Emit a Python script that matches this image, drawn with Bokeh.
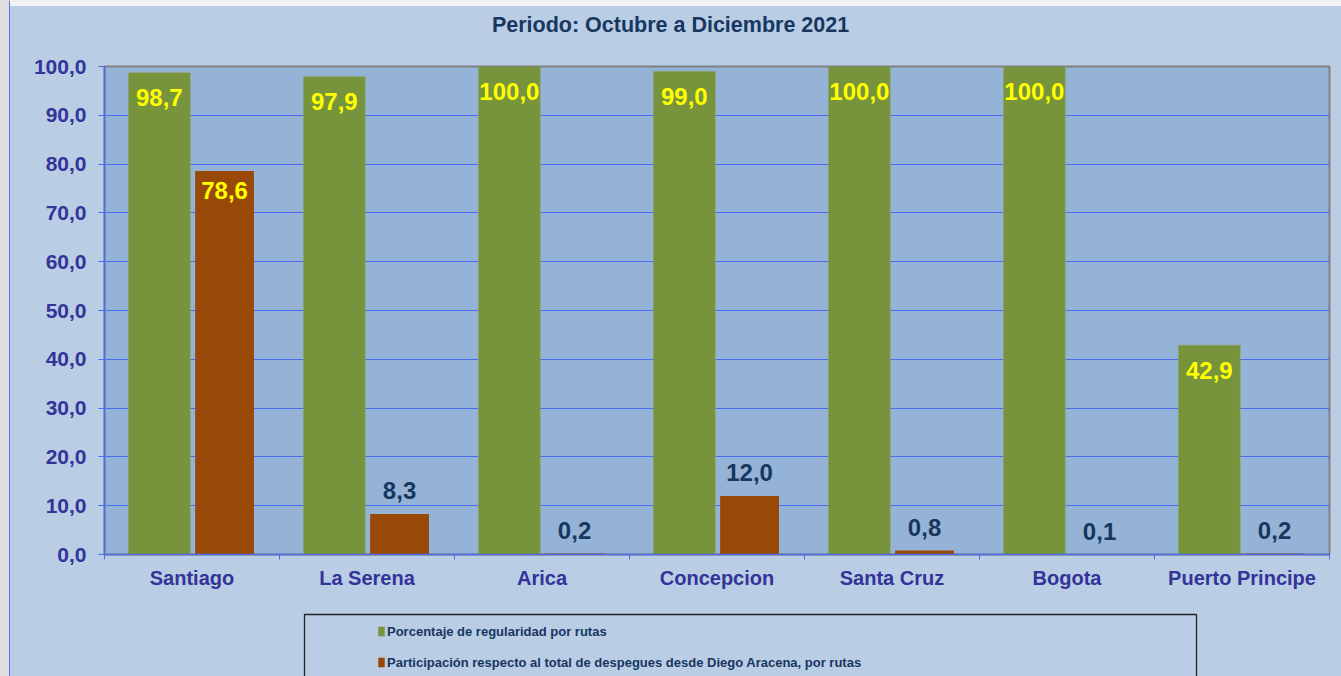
import numpy as np
from bokeh.plotting import figure
from bokeh.layouts import column, row
from bokeh.models import (Range1d, FixedTicker, ColumnDataSource, Legend, LegendItem)
from bokeh.core.properties import value
from bokeh.embed import file_html
from bokeh.resources import INLINE

# ---- data ----
categories = ["Santiago", "La Serena", "Arica", "Concepcion", "Santa Cruz", "Bogota", "Puerto Principe"]
regularidad = [98.7, 97.9, 100.0, 99.0, 100.0, 100.0, 42.9]
participacion = [78.6, 8.3, 0.2, 12.0, 0.8, 0.1, 0.2]
y_ticks = [0, 10, 20, 30, 40, 50, 60, 70, 80, 90, 100]
title_text = "Periodo: Octubre a Diciembre  2021"
serie_names = ["Porcentaje de regularidad por rutas",
               "Participación respecto al total de despegues desde Diego Aracena, por rutas"]

# ---- styles ----
GREEN = "#77933c"
ORANGE = "#984807"
PLOT_BG = "#95b3d7"
OUTER_BG = "#b9cde5"
GRID = "#4a6cf0"
AXIS_TXT = "#333399"
NAVY = "#17375e"
FONT = "Liberation Sans"

def fmt(v):
    return f"{v:.1f}".replace(".", ",")

def plain(fig, bg):
    fig.background_fill_color = None
    fig.border_fill_color = bg
    fig.outline_line_color = None
    fig.grid.visible = False
    fig.styles = {"background-color": bg}
    return fig

idx = np.arange(len(categories))
n = len(categories)
NB = dict(min_border_left=0, min_border_right=0, min_border_top=0, min_border_bottom=0)

# ---------------- main chart ----------------
p = figure(width=1331, height=556, output_backend="svg", toolbar_location=None,
           x_range=Range1d(0, n), y_range=Range1d(0, 100),
           min_border_left=94, min_border_right=12, min_border_top=12, min_border_bottom=56)
p.background_fill_color = PLOT_BG
p.border_fill_color = OUTER_BG
p.outline_line_color = "#808080"
p.outline_line_width = 2
p.styles = {"background-color": OUTER_BG}

src_g = ColumnDataSource(dict(x=idx + 0.3135, top=regularidad,
                              lbl=[fmt(v) for v in regularidad]))
src_o = ColumnDataSource(dict(x=idx + 0.686, top=participacion,
                              lbl=[fmt(v) for v in participacion]))

rg = p.vbar(x="x", top="top", bottom=0, width=0.353, source=src_g,
            fill_color=GREEN, line_color="#8aa35a", line_width=0.5)
ro = p.vbar(x="x", top="top", bottom=0, width=0.336, source=src_o,
            fill_color=ORANGE, line_color=None)

# grid & axes
p.xgrid.visible = False
p.ygrid.ticker = FixedTicker(ticks=y_ticks)
p.ygrid.grid_line_color = GRID
p.ygrid.grid_line_width = 1.2

ya = p.yaxis[0]
ya.ticker = FixedTicker(ticks=y_ticks)
ya.major_label_overrides = {t: fmt(t) for t in y_ticks}
ya.major_label_text_font = FONT
ya.major_label_text_font_style = "bold"
ya.major_label_text_font_size = "21px"
ya.major_label_text_color = AXIS_TXT
ya.axis_line_color = GRID
ya.axis_line_width = 1.5
ya.major_tick_line_color = GRID
ya.major_tick_in = 0
ya.major_tick_out = 6
ya.minor_tick_line_color = None
ya.major_label_standoff = 12

centers = [float(i) + 0.5 for i in range(n)]
xa = p.xaxis[0]
xa.ticker = FixedTicker(ticks=centers, minor_ticks=list(range(n + 1)))
xa.major_label_overrides = {c: name for c, name in zip(centers, categories)}
xa.major_label_text_font = FONT
xa.major_label_text_font_style = "bold"
xa.major_label_text_font_size = "20px"
xa.major_label_text_color = AXIS_TXT
xa.major_label_standoff = 7
xa.axis_line_color = GRID
xa.axis_line_width = 1.5
xa.major_tick_line_color = None
xa.major_tick_in = 0
xa.major_tick_out = 0
xa.minor_tick_line_color = GRID
xa.minor_tick_in = 0
xa.minor_tick_out = 5

# value labels
p.text(x="x", y="top", text="lbl", source=src_g, text_align="center", text_baseline="middle",
       y_offset=25, text_font=value(FONT), text_font_style="bold", text_font_size="24px",
       text_color="#ffff00")
inside = [v > 50 for v in participacion]
src_oi = ColumnDataSource(dict(x=[x for x, f in zip(src_o.data["x"], inside) if f],
                               y=[v for v, f in zip(participacion, inside) if f],
                               t=[fmt(v) for v, f in zip(participacion, inside) if f]))
src_oo = ColumnDataSource(dict(x=[x for x, f in zip(src_o.data["x"], inside) if not f],
                               y=[v for v, f in zip(participacion, inside) if not f],
                               t=[fmt(v) for v, f in zip(participacion, inside) if not f]))
p.text(x="x", y="y", text="t", source=src_oi, text_align="center", text_baseline="middle",
       y_offset=20, text_font=value(FONT), text_font_style="bold", text_font_size="24px",
       text_color="#ffff00")
p.text(x="x", y="y", text="t", source=src_oo, text_align="center", text_baseline="middle",
       y_offset=-23, text_font=value(FONT), text_font_style="bold", text_font_size="24px",
       text_color=NAVY)

# ---------------- title strip (pixel-like coordinates, frame aligned with chart) ----------------
t = plain(figure(width=1331, height=48, output_backend="svg", toolbar_location=None,
                 x_range=Range1d(104, 1329), y_range=Range1d(54, 6),
                 x_axis_type=None, y_axis_type=None, **NB), OUTER_BG)
t.text(x=[673], y=[24], text=[title_text], text_align="center", text_baseline="middle",
       text_font=value(FONT), text_font_style="bold", text_font_size="21.5px", text_color=NAVY)

# ---------------- legend strip ----------------
q = plain(figure(width=1331, height=66, output_backend="svg", toolbar_location=None,
                 x_range=Range1d(104, 1329), y_range=Range1d(676, 610),
                 x_axis_type=None, y_axis_type=None, **NB), OUTER_BG)
q.quad(left=[304], right=[1196], top=[614], bottom=[690], fill_alpha=0,
       line_color="#222222", line_width=1.3)
lg = q.vbar(x=[-5000], top=[0], bottom=[0], width=1, fill_color=GREEN, line_color=None)
lo = q.vbar(x=[-5000], top=[0], bottom=[0], width=1, fill_color=ORANGE, line_color=None)
legend = Legend(items=[LegendItem(label=serie_names[0], renderers=[lg]),
                       LegendItem(label=serie_names[1], renderers=[lo])],
                location=(273, 6), orientation="vertical",
                glyph_width=8, glyph_height=12, label_height=16, spacing=15,
                label_standoff=2, padding=0, margin=0,
                label_text_font=FONT, label_text_font_style="bold",
                label_text_font_size="13px", label_text_color=NAVY,
                border_line_color=None, background_fill_alpha=0)
q.add_layout(legend, "center")

# ---------------- frame strips ----------------
top_strip = plain(figure(width=1331, height=6, output_backend="svg", toolbar_location=None,
                         x_range=Range1d(0, 1), y_range=Range1d(6, 0),
                         x_axis_type=None, y_axis_type=None, **NB), "#f2f2f2")
top_strip.quad(left=[0], right=[1], top=[4.6], bottom=[6], fill_color=GRID, line_color=None)

left_strip = plain(figure(width=10, height=676, output_backend="svg", toolbar_location=None,
                          x_range=Range1d(0, 10), y_range=Range1d(0, 1),
                          x_axis_type=None, y_axis_type=None, **NB), "#dedede")
left_strip.quad(left=[8.6], right=[10], top=[1], bottom=[0], fill_color=GRID, line_color=None)

col = column(top_strip, t, p, q, spacing=0, styles={"background-color": OUTER_BG})
layout = row(left_strip, col, spacing=0, styles={"background-color": OUTER_BG})

open("out.html", "w").write(file_html(layout, INLINE))
